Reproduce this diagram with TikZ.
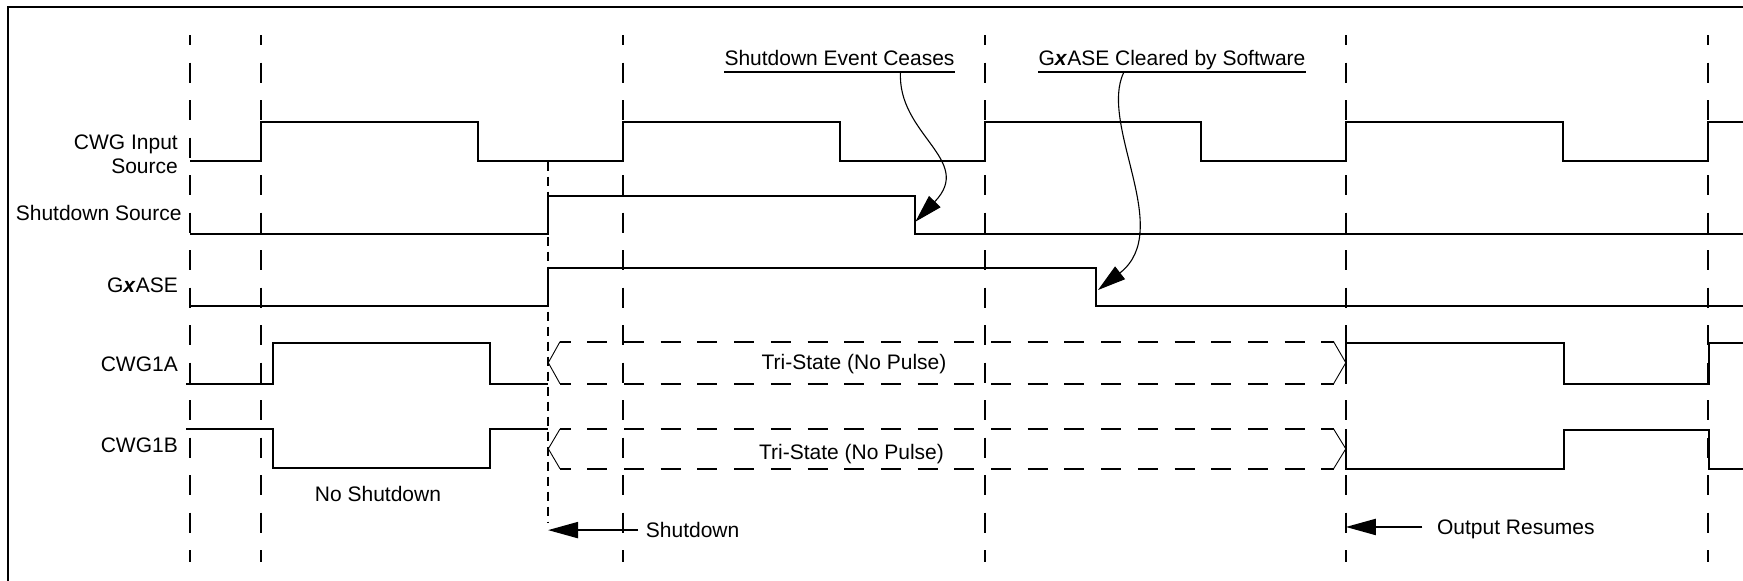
\documentclass[tikz,border=0pt]{standalone}
\usepackage{fontspec}
\setmainfont{Liberation Sans}
\usetikzlibrary{arrows.meta}
\begin{document}
\begin{tikzpicture}[x=1pt,y=-1pt,
  wave/.style={line width=2.2pt, line join=miter},
  gridline/.style={line width=1.7pt, dash pattern=on 20pt off 17.5pt, dash phase=10pt},
  sdgrid/.style={line width=1.7pt, dash pattern=on 9pt off 6pt},
  tri/.style={line width=2pt, dash pattern=on 20pt off 16.7pt, dash phase=9.4pt},
  chev/.style={line width=0.9pt},
  lbl/.style={inner sep=0pt, font=\fontsize{21}{24}\selectfont},
  arr/.style={line width=2pt, -{Triangle[length=30pt,width=16pt]}},
  carr/.style={line width=1.1pt, -{Triangle[length=28pt,width=16pt]}},
  uline/.style={line width=2pt},
  frameline/.style={line width=2pt}
]
\useasboundingbox (0,0) rectangle (1743,581);

% frame
\draw[frameline] (7.7,581) -- (7.7,7) -- (1743,7);

% vertical time markers
\foreach \xx in {190,260.7,622.7,984.7,1345.8,1707.8}
  \draw[gridline] (\xx,35) -- (\xx,562);
\draw[sdgrid] (547.7,161.7) -- (547.7,522);

% signal labels
\node[lbl, anchor=base east] (lin1) at (178,149) {CWG Input};
\node[lbl, anchor=base east] (lin2) at (178,173.3) {Source};
\node[lbl, anchor=base east] (lsd) at (181.8,220) {Shutdown Source};
\node[lbl, anchor=base east] (lgx) at (178,292) {G\textbf{\textit{x}}ASE};
\node[lbl, anchor=base east] (la) at (178,371.7) {CWG1A};
\node[lbl, anchor=base east] (lb) at (178,452.7) {CWG1B};

% CWG input source
\draw[wave] (190,160.7) -- (260.7,160.7) -- (260.7,121.7) -- (477.7,121.7) -- (477.7,160.7)
  -- (622.7,160.7) -- (622.7,121.7) -- (839.7,121.7) -- (839.7,160.7)
  -- (984.7,160.7) -- (984.7,121.7) -- (1201.2,121.7) -- (1201.2,160.7)
  -- (1345.8,160.7) -- (1345.8,121.7) -- (1563.2,121.7) -- (1563.2,160.7)
  -- (1707.8,160.7) -- (1707.8,121.7) -- (1743,121.7);

% Shutdown source
\draw[wave] (190,233.7) -- (547.7,233.7) -- (547.7,195.7) -- (914.7,195.7) -- (914.7,233.7) -- (1743,233.7);

% GxASE
\draw[wave] (190,306) -- (547.7,306) -- (547.7,268) -- (1095.7,268) -- (1095.7,306) -- (1743,306);

% CWG1A
\draw[wave] (186.4,383.7) -- (272.8,383.7) -- (272.8,343.3) -- (489.8,343.3) -- (489.8,383.7) -- (548,383.7);
\draw[wave] (1345.8,383.7) -- (1345.8,343.3) -- (1564,343.3) -- (1564,383.7) -- (1708.6,383.7) -- (1708.6,343.3) -- (1743,343.3);

% CWG1B
\draw[wave] (186.4,429) -- (272.8,429) -- (272.8,467.7) -- (489.8,467.7) -- (489.8,429) -- (548,429);
\draw[wave] (1345.8,429) -- (1345.8,468.7) -- (1564,468.7) -- (1564,430) -- (1708.6,430) -- (1708.6,468.7) -- (1743,468.7);

% tri-state regions
\draw[tri] (560,341.7) -- (1333.6,341.7);
\draw[tri] (560,383.7) -- (1333.6,383.7);
\draw[chev] (560,341.7) -- (548.3,362.7) -- (560,383.7);
\draw[chev] (1333.6,341.7) -- (1345.8,362.7) -- (1333.6,383.7);
\draw[tri] (560,429) -- (1333.6,429);
\draw[tri] (560,468.7) -- (1333.6,468.7);
\draw[chev] (560,429) -- (548.3,448.8) -- (560,468.7);
\draw[chev] (1333.6,429) -- (1345.8,448.8) -- (1333.6,468.7);

\node[lbl, anchor=base] (tsa) at (854,369) {Tri-State (No Pulse)};
\node[lbl, anchor=base] (tsb) at (851.5,459) {Tri-State (No Pulse)};
\node[lbl, anchor=base] (nosd) at (378,501) {No Shutdown};

% bottom arrows
\node[lbl, anchor=base west, text depth=0pt] (sdt) at (645.7,537.7) {Shutdown};
\coordinate (sdtip) at (548,0);
\draw[arr] ([xshift=-7.7pt]sdt.west) -- (sdt.west -| sdtip);

\node[lbl, anchor=base west, text depth=0pt] (ort) at (1436.9,534.3) {Output Resumes};
\coordinate (ortip) at (1345.8,0);
\draw[arr] ([xshift=-14.6pt]ort.west) -- (ort.west -| ortip);

% callouts
\node[lbl, anchor=base] (sec) at (839.5,65.7) {Shutdown Event Ceases};
\draw[uline] ([yshift=-6pt]sec.base west) -- ([yshift=-6pt]sec.base east);
\node[lbl, anchor=base] (gcs) at (1172,65.7) {G\textbf{\textit{x}}ASE Cleared by Software};
\draw[uline] ([yshift=-6pt]gcs.base west) -- ([yshift=-6pt]gcs.base east);

\coordinate (c1s) at (900.5,71.7);
\coordinate (c1e) at (915.4,221.7);
\draw[carr] (c1s) .. controls (897,135) and (975,160) .. (c1e);

\coordinate (c2s) at (1124,71.7);
\coordinate (c2e) at (1098,290);
\draw[carr] (c2s) .. controls (1098,125) and (1175,230) .. (c2e);
\end{tikzpicture}
\end{document}
